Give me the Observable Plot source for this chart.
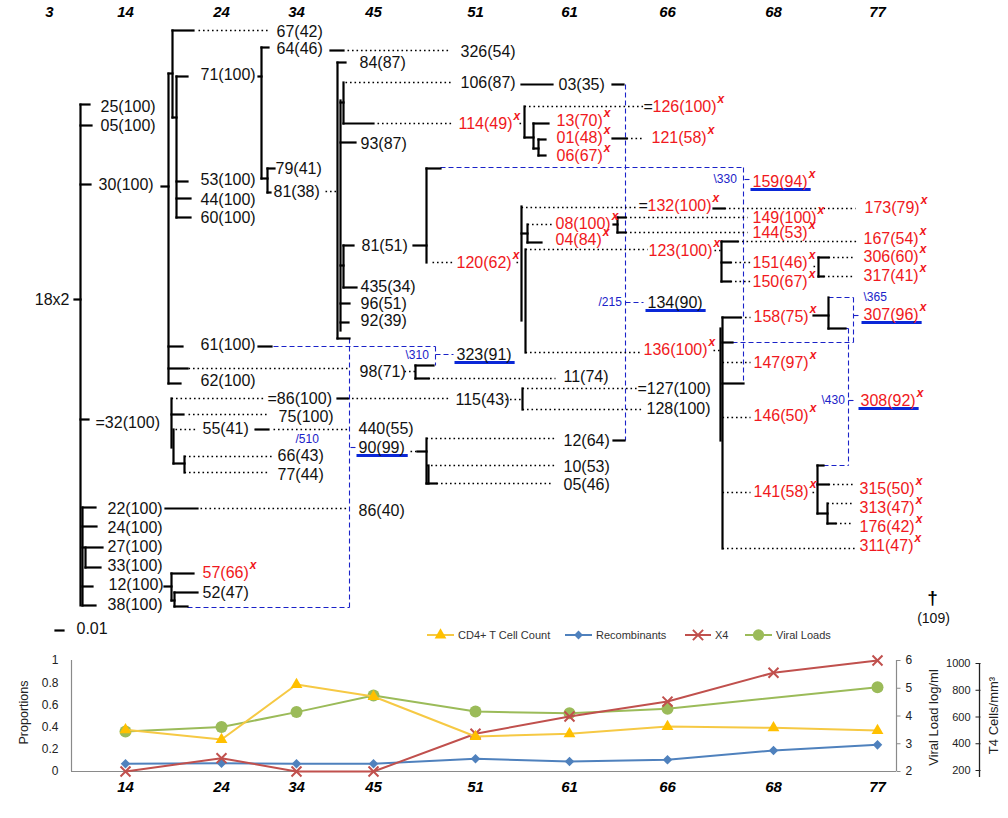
<!DOCTYPE html>
<html><head><meta charset="utf-8">
<script src="https://cdn.jsdelivr.net/npm/d3@7"></script>
<script src="https://cdn.jsdelivr.net/npm/@observablehq/plot@0.6"></script>
<style>
body{margin:0;background:#fff;font-family:"Liberation Sans",Arial,sans-serif}
#wrap{position:relative;width:1008px;height:818px;overflow:hidden;background:#fff}
#tree{position:absolute;left:0;top:0}
#chart{position:absolute;left:0;top:640px}
#legend{position:absolute;top:627px;left:0;width:1008px;height:16px;font-size:11px;color:#333}
.li{position:absolute;top:0;height:15px;display:flex;align-items:center;white-space:nowrap}
.li svg{display:block}
</style></head><body>
<div id="wrap"><div id="tree"></div><div id="legend"></div><div id="chart"></div></div>
<script>
// ---------------- DATA: line chart ----------------
const weeks = [14,24,34,45,51,61,66,68,77];
const headerWeeks = [3,14,24,34,45,51,61,66,68,77];
const recombinants = [0.07,0.075,0.07,0.07,0.115,0.09,0.105,0.19,0.24];
const x4 = [0,0.12,0,0,0.34,0.495,0.63,0.89,1.0];
const viralLoad = [3.44,3.60,4.14,4.74,4.16,4.10,4.26,null,5.04];
const cd4 = [504,432,843,753,454,474,529,519,499];
const propTicks = [0,0.2,0.4,0.6,0.8,1];
const viralTicks = [2,3,4,5,6];
const t4Ticks = [200,400,600,800,1000];
const seriesNames = ["CD4+ T Cell Count","Recombinants","X4","Viral Loads"];

// ---------------- DATA: tree (layout units) ----------------
const solidSegs = [
 [80,104,80,605],[80,104,89,104],[80,125,91,125],[80,184,90,184],[74,299,80,299],[80,419,88,419],
 [82,507,82,605],[82,507,95,507],[82,526,96,526],[82,547,102,547],[85,547,85,567],[85,567,100,567],[82,586,92,586],[82,605,95,605],
 [161,186,168,186],[168,73,168,383],[168,73,172,73],[172,30,172,117],[172,30,193,30],[176,76,176,217],[172,117,176,117],
 [176,76,187,76],[176,181,187,181],[176,198,190,198],[176,217,190,217],
 [258,76,261,76],[261,47,261,178],[261,47,268,47],[261,178,267,178],[267,168,267,192],[267,168,274,168],[267,192,270,192],
 [330,50,343,50],
 [168,346,182,346],[258,346,271,346],[168,368,187,368],[168,383,180,383],
 [337,62,337,338],[340,100,340,330],[337,62,345,62],[343,82,343,123],[340,102,343,102],[343,123,373,123],[340,142,355,142],
 [343,245,343,287],[340,265,343,265],[343,245,353,245],[343,287,356,287],[340,303,349,303],[340,322,348,322],[337,338,349,338],
 [413,245,426,245],[426,168,426,262],[426,168,440,168],
 [521,206,521,320],[525,249,525,352],[521,233,527,233],[527,224,527,242],[527,242,541,242],
 [613,224,617,224],[617,217,617,232],[617,217,625,217],[617,232,625,232],
 [713,208,724,208],[721,241,721,281],[721,241,737,241],[721,262,730,262],[721,281,730,281],
 [818,257,818,276],[818,257,828,257],[818,276,823,276],
 [524,106,524,137],[524,137,533,137],[533,123,533,148],[533,123,548,123],[533,148,538,148],[538,139,538,155],[538,139,545,139],[538,155,545,155],[612,138,626,138],
 [521,84,552,84],[612,84,623,84],
 [415,365,415,378],[415,365,433,365],[415,378,428,378],
 [522,388,522,409],
 [171,398,171,447],[173,429,173,463],[171,414,183,414],[255,429,268,429],[173,463,184,463],[184,456,184,472],[337,398,347,398],
 [417,451,426,451],[426,438,426,483],[428,465,428,483],[426,483,436,483],[613,440,624,440],
 [165,508,197,508],
 [164,586,171,586],[171,573,171,600],[171,573,193,573],[174,592,174,606],[171,600,174,600],[174,592,197,592],[174,606,187,606],
 [722,317,722,548],[720,328,720,440],[722,317,740,317],[722,342,732,342],[722,383,743,383],
 [813,315,828,315],[828,297,828,328],[828,328,845,328],
 [817,465,817,513],[817,465,823,465],[817,484,828,484],[827,503,827,523],[817,513,827,513],[827,523,835,523],
 [55,630,63,630]
];
const dottedSegs = [
 [198,30,269,30],[347,50,448,50],[325,191,336,191],[345,82,452,82],[377,123,453,123],[432,262,453,262],
 [516,262,521,262],[519,123,524,123],
 [524,106,643,106],[626,138,643,138],[521,207,638,207],[724,208,855,208],[527,224,553,224],[625,217,747,217],[625,232,747,232],
 [525,249,647,249],[714,250,721,250],[737,241,858,241],[730,262,750,262],[730,281,750,281],[813,266,818,266],[828,257,854,257],[823,276,854,276],
 [525,352,640,352],[713,350,720,350],[740,317,750,317],[722,362,750,362],[722,417,750,417],[722,492,750,492],[812,492,817,492],
 [828,484,853,484],[827,503,853,503],[835,523,853,523],[722,548,856,548],
 [188,368,347,368],[404,371,415,371],[428,378,555,378],
 [171,398,263,398],[347,398,448,398],[505,399,522,399],[522,388,637,388],[522,409,643,409],
 [188,414,269,414],[175,429,197,429],[273,429,347,429],[184,456,272,456],[184,472,267,472],
 [410,451,417,451],[426,438,555,438],[426,465,555,465],[436,483,553,483],
 [200,508,347,508]
];
const dashedSegs = [
 [440,167,743,167],[743,167,743,383],[625,84,625,440],[744,179,751,179],[625,302,643,302],
 [349,338,349,607],[273,346,435,346],[435,346,435,365],[435,354,453,354],[350,447,355,447],[187,607,349,607],
 [828,297,853,297],[853,297,853,342],[853,315,860,315],[732,342,853,342],[845,328,848,328],[848,328,848,465],[823,465,848,465],[848,400,856,400]
];
const blackLabels = [
 [100,106,"25(100)"],[100,125,"05(100)"],[98,184,"30(100)"],[95,422,"=32(100)"],
 [107,508,"22(100)"],[107,527,"24(100)"],[107,546,"27(100)"],[107,565,"33(100)"],[108,584,"12(100)"],[107,604,"38(100)"],
 [276,31,"67(42)"],[200,74,"71(100)"],[200,179,"53(100)"],[200,199,"44(100)"],[200,217,"60(100)"],
 [276,48,"64(46)"],[275,168,"79(41)"],[273,191,"81(38)"],[460,51,"326(54)"],[359,62,"84(87)"],[460,82,"106(87)"],
 [360,143,"93(87)"],[361,245,"81(51)"],[360,286,"435(34)"],[360,303,"96(51)"],[360,320,"92(39)"],
 [200,344,"61(100)"],[359,371,"98(71)"],[200,380,"62(100)"],[456,354,"323(91)"],[563,376,"11(74)"],
 [267,398,"=86(100)"],[278,416,"75(100)"],[202,428,"55(41)"],[358,428,"440(55)"],[277,455,"66(43)"],[277,474,"77(44)"],
 [358,447,"90(99)"],[358,510,"86(40)"],[202,592,"52(47)"],[455,399,"115(43)"],
 [558,84,"03(35)"],[563,440,"12(64)"],[563,466,"10(53)"],[563,484,"05(46)"],
 [637,388,"=127(100)"],[646,408,"128(100)"],[647,302,"134(90)"],
 [643,106,"="],[638,205,"="]
];
const redLabels = [
 [458,123,"114(49)"],[456,262,"120(62)"],[202,572,"57(66)"],[652,106,"126(100)"],[556,120,"13(70)"],[556,137,"01(48)"],[556,155,"06(67)"],
 [651,137,"121(58)"],[752,181,"159(94)"],[647,205,"132(100)"],[864,207,"173(79)"],[555,223,"08(100)"],[555,239,"04(84)"],
 [752,217,"149(100)"],[752,232,"144(53)"],[648,250,"123(100)"],[863,238,"167(54)"],[752,262,"151(46)"],[752,281,"150(67)"],
 [863,256,"306(60)"],[863,275,"317(41)"],[753,316,"158(75)"],[863,314,"307(96)"],[643,349,"136(100)"],[753,362,"147(97)"],
 [753,415,"146(50)"],[860,400,"308(92)"],[753,491,"141(58)"],[859,488,"315(50)"],[859,507,"313(47)"],[859,526,"176(42)"],[859,545,"311(47)"]
];
const blueLabels = [[713,179,"\\330"],[598,302,"/215"],[405,355,"\\310"],[295,439,"/510"],[863,297,"\\365"],[821,400,"\\430"]];
const underlined = ["323(91)","90(99)","134(90)","159(94)","307(96)","308(92)"];

// ---------------- layout helpers ----------------
const FONT = "'Liberation Sans', Arial, sans-serif";
// column centre of each sampling week, shared by the tree header and the chart
const colScale = d3.scaleLinear().domain(headerWeeks).range([49,125,221,296,373,475,569,667,773,877]);
const ctx = document.createElement("canvas").getContext("2d");
ctx.font = "16px 'Liberation Sans'";
const tw = s => ctx.measureText(s).width;
const seg = a => a.map(([x1,y1,x2,y2]) => ({x1,y1,x2,y2}));
const allLabels = blackLabels.concat(redLabels);
const underlineSegs = underlined.map(t => {
  const l = allLabels.find(d => d[2] === t);
  return {x1: l[0]-2, y1: l[1]+8, x2: l[0]+tw(t)+3, y2: l[1]+8};
});
const L = {x1:"x1", y1:"y1", x2:"x2", y2:"y2"};
const RED = "#f01820", BLUE = "#1a22c8";

const tree = Plot.plot({
  width:1008, height:640, margin:0,
  x:{domain:[0,1008], range:[0,1008], axis:null},
  y:{domain:[0,640], range:[0,640], axis:null},
  style:{fontFamily:FONT, background:"transparent", overflow:"visible"},
  marks:[
    Plot.link(seg(dashedSegs), {...L, stroke:BLUE, strokeWidth:1.1, strokeDasharray:"5,3"}),
    Plot.link(seg(dottedSegs), {...L, stroke:"#000", strokeWidth:1.6, strokeDasharray:"1.6,2.9"}),
    Plot.link(seg(solidSegs), {...L, stroke:"#000", strokeWidth:2.2, strokeLinecap:"square"}),
    Plot.link(underlineSegs, {...L, stroke:"#0a28d8", strokeWidth:3}),
    Plot.text(blackLabels, {x:d=>d[0], y:d=>d[1], text:d=>d[2], textAnchor:"start", fontSize:16, fill:"#111"}),
    Plot.text(redLabels, {x:d=>d[0], y:d=>d[1], text:d=>d[2], textAnchor:"start", fontSize:16, fill:RED}),
    Plot.text(redLabels, {x:d=>d[0]+tw(d[2])+1, y:d=>d[1]-7, text:()=>"x", textAnchor:"start", fontSize:12, fontStyle:"italic", fontWeight:"bold", fill:RED}),
    Plot.text(blueLabels, {x:d=>d[0], y:d=>d[1], text:d=>d[2], textAnchor:"start", fontSize:12, fill:BLUE}),
    Plot.text(headerWeeks, {x:d=>colScale(d), y:()=>12, text:d=>String(d), fontSize:15, fontWeight:"bold", fontStyle:"italic", fill:"#000"}),
    Plot.text(["18x2"], {x:()=>69, y:()=>299, text:d=>d, textAnchor:"end", fontSize:16, fill:"#111"}),
    Plot.text(["0.01"], {x:()=>76, y:()=>628, text:d=>d, textAnchor:"start", fontSize:16, fill:"#111"}),
    Plot.text(["\u2020"], {x:()=>932, y:()=>597, text:d=>d, fontSize:19, fontWeight:"bold", fill:"#000"}),
    Plot.text(["(109)"], {x:()=>933, y:()=>618, text:d=>d, fontSize:14, fill:"#111"})
  ]
});
document.getElementById("tree").appendChild(tree);

// ---------------- line chart ----------------
const COLORS = {cd4Line:"#F6C944", cd4:"#FFC000", rec:"#4F81BD", x4:"#C0504D", vl:"#9BBB59"};
const yPx = d3.scaleLinear([0,1],[131,20]);
const t4Px = d3.scaleLinear([200,1000],[130,23]);
const t4ToProp = v => yPx.invert(t4Px(v));
const viralToProp = v => (v-2)/4;
const rows = (vals, f) => weeks.map((w,i)=>({week:w, v:vals[i]})).filter(d=>d.v!=null).map(d=>({col:colScale(d.week), p:f(d.v)}));
const vlRows = rows(viralLoad, viralToProp);
const recRows = rows(recombinants, d=>d);
const x4Rows = rows(x4, d=>d);
const cd4Rows = rows(cd4, t4ToProp);
const P = {x:"col", y:"p"};
const gray = "#8a8a8a";

const chart = Plot.plot({
  width:1008, height:178, marginLeft:71, marginRight:112, marginTop:20, marginBottom:47,
  x:{domain:[0,1008], range:[0,1008], axis:null},
  y:{domain:[0,1], range:[131,20], axis:null},
  style:{fontFamily:FONT, background:"transparent", overflow:"visible", color:"#222"},
  marks:[
    Plot.ruleY([0], {stroke:gray, strokeWidth:1.2}),
    Plot.ruleX([71, 896], {y1:()=>0, y2:()=>1, stroke:gray, strokeWidth:1.2}),
    Plot.axisY(propTicks, {anchor:"left", tickSize:0, tickPadding:13, fontSize:12, label:null, tickFormat:d=>String(d)}),
    Plot.link(viralTicks, {x1:()=>896, x2:()=>900, y1:v=>viralToProp(v), y2:v=>viralToProp(v), stroke:gray}),
    Plot.text(viralTicks, {x:()=>905, y:v=>viralToProp(v), text:v=>String(v), textAnchor:"start", fontSize:12}),
    Plot.ruleX([979], {y1:()=>t4ToProp(1000), y2:()=>yPx.invert(137), stroke:"#222", strokeWidth:1.3}),
    Plot.link(t4Ticks, {x1:()=>975, x2:()=>980, y1:v=>t4ToProp(v), y2:v=>t4ToProp(v), stroke:"#222"}),
    Plot.text(t4Ticks, {x:()=>970, y:v=>t4ToProp(v), text:v=>String(v), textAnchor:"end", fontSize:11}),
    Plot.text(["Proportions"], {x:()=>23, y:()=>yPx.invert(72), text:d=>d, rotate:-90, fontSize:12.5}),
    Plot.text(["Viral Load log/ml"], {x:()=>933, y:()=>yPx.invert(77), text:d=>d, rotate:-90, fontSize:13}),
    Plot.text(["T4 Cells/mm\u00b3"], {x:()=>993, y:()=>yPx.invert(75), text:d=>d, rotate:-90, fontSize:13}),
    Plot.text(weeks, {x:d=>colScale(d), frameAnchor:"bottom", dy:20, text:d=>String(d), fontSize:15, fontWeight:"bold", fontStyle:"italic", fill:"#000"}),
    Plot.line(vlRows, {...P, stroke:COLORS.vl, strokeWidth:2}),
    Plot.dot(vlRows, {...P, r:6, fill:COLORS.vl}),
    Plot.line(recRows, {...P, stroke:COLORS.rec, strokeWidth:2}),
    Plot.dot(recRows, {...P, symbol:"diamond2", r:4.3, fill:COLORS.rec}),
    Plot.line(x4Rows, {...P, stroke:COLORS.x4, strokeWidth:2}),
    Plot.dot(x4Rows, {...P, symbol:"times", r:4.6, stroke:COLORS.x4, strokeWidth:2}),
    Plot.line(cd4Rows, {...P, stroke:COLORS.cd4Line, strokeWidth:2}),
    Plot.dot(cd4Rows, {...P, symbol:"triangle", r:4.4, fill:COLORS.cd4})
  ]
});
document.getElementById("chart").appendChild(chart);

// ---------------- legend ----------------
const legendSpec = [
  {name:seriesNames[0], line:COLORS.cd4Line, mark:COLORS.cd4, sym:d3.symbolTriangle, size:60, fill:true, left:427, w:29},
  {name:seriesNames[1], line:COLORS.rec, mark:COLORS.rec, sym:d3.symbolDiamond2, size:50, fill:true, left:565, w:29},
  {name:seriesNames[2], line:COLORS.x4, mark:COLORS.x4, sym:d3.symbolTimes, size:70, fill:false, left:685, w:28},
  {name:seriesNames[3], line:COLORS.vl, mark:COLORS.vl, sym:d3.symbolCircle, size:100, fill:true, left:745, w:29}
];
const leg = d3.select("#legend");
legendSpec.forEach(s => {
  const item = leg.append("div").attr("class","li").style("left", s.left+"px");
  const svg = item.append("svg").attr("width", s.w+2).attr("height", 14);
  svg.append("line").attr("x1",0).attr("x2",s.w-2).attr("y1",7).attr("y2",7).attr("stroke",s.line).attr("stroke-width",2);
  svg.append("path").attr("transform",`translate(${(s.w-2)/2},7)`).attr("d", d3.symbol(s.sym, s.size)())
     .attr("fill", s.fill ? s.mark : "none").attr("stroke", s.fill ? "none" : s.mark).attr("stroke-width", 2);
  item.append("span").text(s.name);
});
</script>
</body></html>
